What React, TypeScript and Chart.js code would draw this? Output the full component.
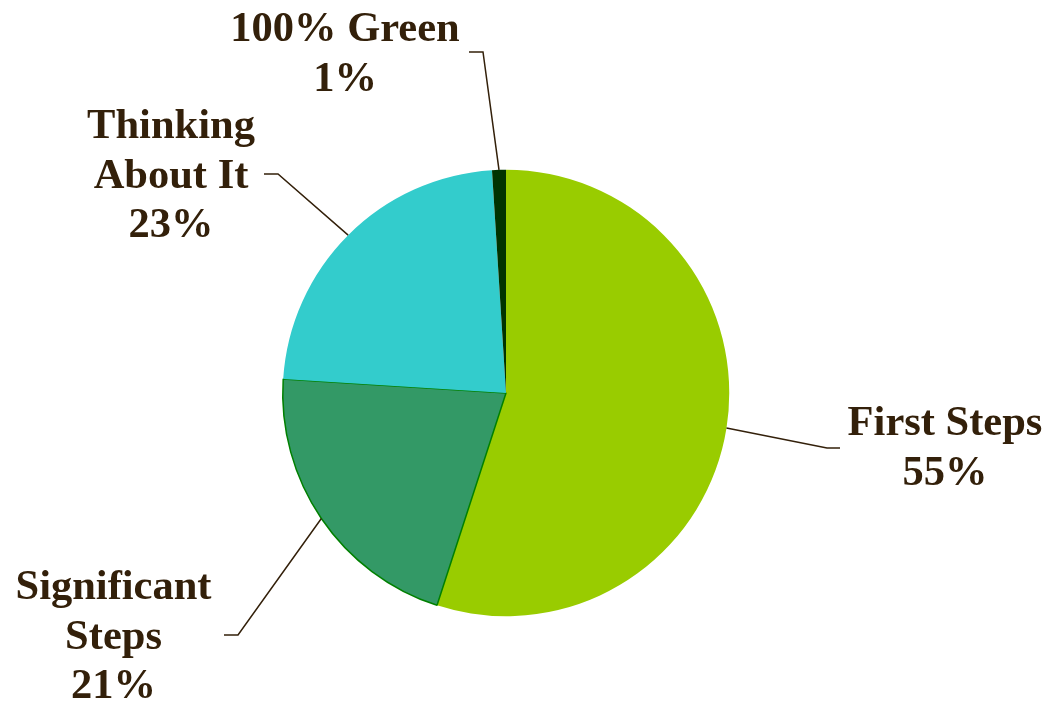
import React, { useEffect, useRef } from "react";
import { Chart, registerables } from "chart.js";

Chart.register(...registerables);

const categories = ["First Steps", "Significant Steps", "Thinking About It", "100% Green"];
const labelLines = [["First Steps"], ["Significant", "Steps"], ["Thinking", "About It"], ["100% Green"]];
const values = [55, 21, 23, 1];
const colors = ["#99CC00", "#339966", "#33CCCC", "#003300"];
const borderColors = ["#99CC00", "#008000", "#33CCCC", "#003300"];
const borderWidths = [0, 1.5, 0, 0];

// layout of the callouts (elbow point, end of horizontal tick, text centre, first baseline)
const calloutLayout = [
  { elbow: [827, 448], end: [840, 448], textX: 945, baseY: 435 },
  { elbow: [238, 635], end: [224, 635], textX: 113.5, baseY: 599 },
  { elbow: [278, 174], end: [264, 174], textX: 171, baseY: 138 },
  { elbow: [483, 52], end: [469, 52], textX: 345, baseY: 41 },
];

const TEXT_COLOR = "#33200A";
const FONT = "bold 42.5px 'Liberation Serif', 'Times New Roman', serif";
const LINE_H = 49.5;

const calloutPlugin = {
  id: "callouts",
  afterDraw(chart: any) {
    const ctx = chart.ctx;
    const meta = chart.getDatasetMeta(0);
    const total = values.reduce((a, b) => a + b, 0);
    ctx.save();
    meta.data.forEach((arc: any, i: number) => {
      const lay = calloutLayout[i];
      const mid = (arc.startAngle + arc.endAngle) / 2;
      const sx = arc.x + Math.cos(mid) * arc.outerRadius;
      const sy = arc.y + Math.sin(mid) * arc.outerRadius;
      ctx.beginPath();
      ctx.strokeStyle = TEXT_COLOR;
      ctx.lineWidth = 1.5;
      ctx.moveTo(sx, sy);
      ctx.lineTo(lay.elbow[0], lay.elbow[1]);
      ctx.lineTo(lay.end[0], lay.end[1]);
      ctx.stroke();

      const pct = Math.round((values[i] / total) * 100) + "%";
      const lines = [...labelLines[i], pct];
      ctx.fillStyle = TEXT_COLOR;
      ctx.font = FONT;
      ctx.textAlign = "center";
      ctx.textBaseline = "alphabetic";
      lines.forEach((t, k) => {
        ctx.fillText(t, lay.textX, lay.baseY + k * LINE_H);
      });
    });
    ctx.restore();
  },
};

export default function App() {
  const ref = useRef<HTMLCanvasElement | null>(null);
  useEffect(() => {
    document.body.style.margin = "0";
    const canvas = ref.current;
    if (!canvas) return;
    const chart = new Chart(canvas, {
      type: "pie",
      data: {
        labels: categories,
        datasets: [
          {
            data: values,
            backgroundColor: colors,
            borderColor: borderColors,
            borderWidth: borderWidths,
          },
        ],
      },
      options: {
        responsive: false,
        animation: false,
        layout: { padding: { left: 282, right: 318, top: 169, bottom: 86 } },
        plugins: {
          legend: { display: false },
          tooltip: { enabled: false },
        },
      },
      plugins: [calloutPlugin],
    });
    return () => chart.destroy();
  }, []);
  return (
    <div style={{ width: 1048, height: 703, background: "#ffffff" }}>
      <canvas ref={ref} width={1048} height={703} style={{ display: "block" }} />
    </div>
  );
}
